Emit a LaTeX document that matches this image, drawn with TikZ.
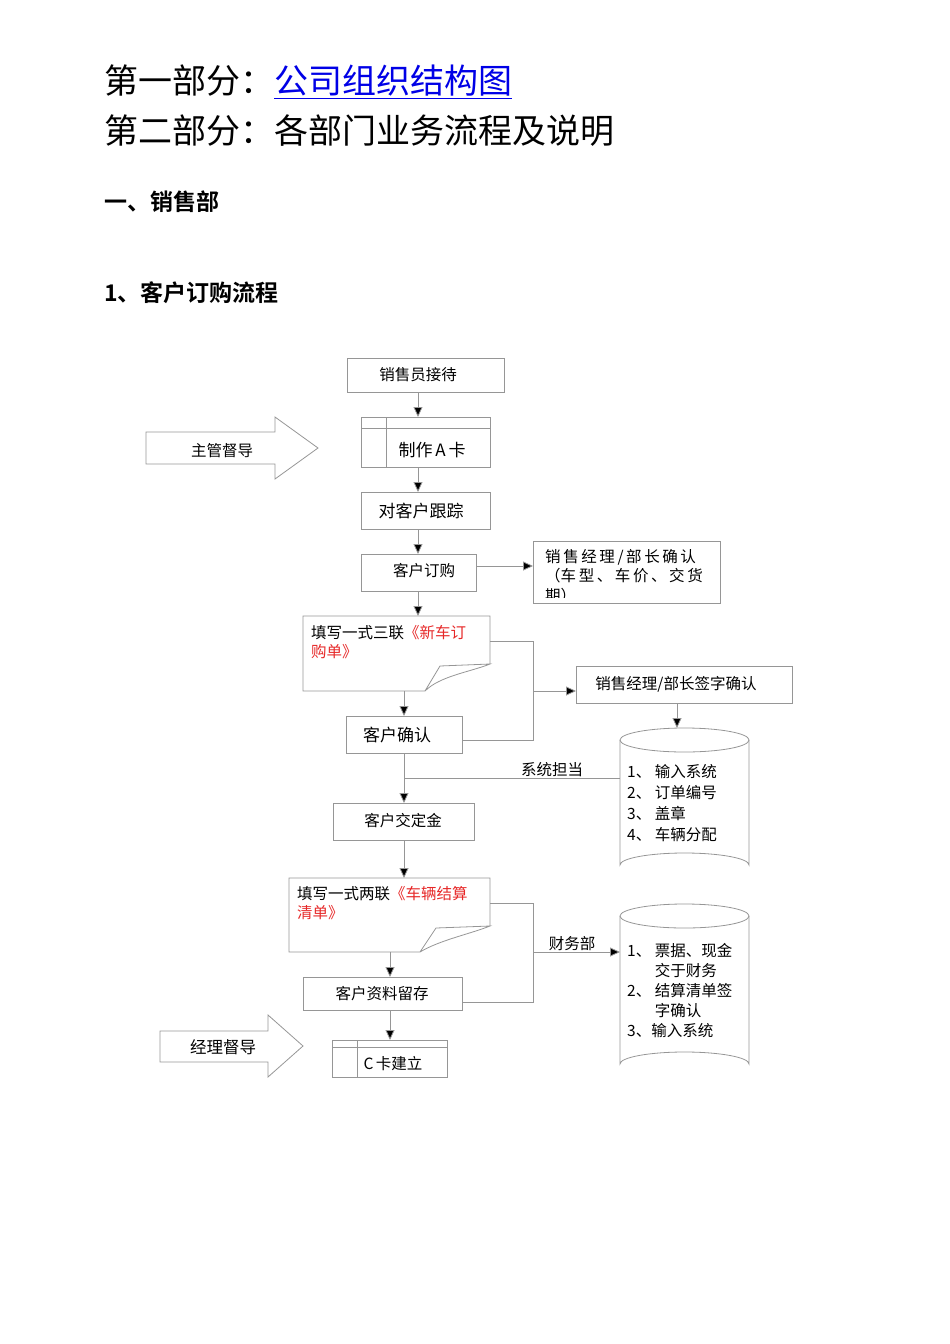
\documentclass[tikz,border=0pt]{standalone}
\usepackage{fontspec}
\setmainfont{Liberation Serif}
\newfontfamily\cjk{Noto Sans CJK SC}
\newfontfamily\cjkb{Noto Sans CJK SC Bold}
\usetikzlibrary{arrows.meta}
\definecolor{bd}{RGB}{150,150,150}
\definecolor{lk}{RGB}{0,0,230}
\definecolor{rd}{RGB}{230,40,40}
\begin{document}
\begin{tikzpicture}[x=1pt,y=-1pt,
 bx/.style={draw=bd,line width=0.8pt,inner sep=0pt},
 tx/.style={font=\cjk\fontsize{15.5}{19}\selectfont,inner sep=0pt},
 ln/.style={draw=bd,line width=0.8pt},
 ar/.style={ln,-{Triangle[length=10pt,width=9pt,fill=black]},shorten >=0pt},
 cyl/.style={draw=bd,line width=0.8pt}]
\useasboundingbox (0,0) rectangle (950,1344);
\node[anchor=west,font=\cjk\fontsize{34}{38}\selectfont,inner sep=0pt] (t1) at (104,82) {第一部分：\textcolor{lk}{\underline{公司组织结构图}}};
\node[anchor=west,font=\cjk\fontsize{34}{38}\selectfont,inner sep=0pt] (t2) at (104,131) {第二部分：各部门业务流程及说明};
\node[anchor=west,font=\cjkb\fontsize{23}{26}\selectfont,inner sep=0pt] (t3) at (104,202) {一、销售部};
\node[anchor=west,font=\cjkb\fontsize{23}{26}\selectfont,inner sep=0pt] (t4) at (104,293) {1、客户订购流程};
% boxes
\draw[bx] (347,358) rectangle (504,392); \node[tx] (b1) at (418,375) {销售员接待};
\draw[bx] (361,417) rectangle (490,467); \draw[ln] (386,417)--(386,467) (361,428)--(490,428);
\node[tx,font=\cjk\fontsize{17}{20}\selectfont] (b2) at (432,450) {制作\,A\,卡};
\draw[bx] (361,492) rectangle (490,529); \node[tx,font=\cjk\fontsize{17}{20}\selectfont] (b3) at (421,511) {对客户跟踪};
\draw[bx] (361,554) rectangle (476,591); \node[tx] (b4) at (424,571) {客户订购};
\draw[bx] (533,541) rectangle (720,603);
\begin{scope}
\clip (533,541) rectangle (720,597);
\node[tx,anchor=north west,align=left,font=\cjk\fontsize{15.5}{19.5}\selectfont] (b5) at (545,549) {销\,售\,经\,理\,/\,部\,长\,确\,认\\（车\,型\,、\,车\,价\,、\,交\,货\\期）};
\end{scope}
% doc1
\draw[bx] (490,664)--(490,616)--(303,616)--(303,691)--(425,691) .. controls (440,676) and (470,672) .. (490,664) -- (440,666) -- (425,691);
\node[tx,anchor=north west,align=left] (d1) at (311,625) {填写一式三联\textcolor{rd}{《新车订}\\\textcolor{rd}{购单》}};
\draw[bx] (576,666) rectangle (792,703); \node[tx] (b6) at (676,684) {销售经理/部长签字确认};
\draw[bx] (346,716) rectangle (462,753); \node[tx,font=\cjk\fontsize{17}{20}\selectfont] (b7) at (397,735) {客户确认};
\draw[bx] (333,803) rectangle (474,840); \node[tx] (b8) at (403,821) {客户交定金};
% cylinder1
\draw[cyl] (620,740)--(620,865) arc[start angle=180,end angle=360,x radius=64.5,y radius=12] -- (749,740);
\draw[cyl] (684.5,740) ellipse[x radius=64.5,y radius=12];
\node[tx,anchor=north west,align=left,font=\cjk\fontsize{15.5}{21}\selectfont] (c1) at (627,764) {1、\ 输入系统\\2、\ 订单编号\\3、\ 盖章\\4、\ 车辆分配};
% doc2
\draw[bx] (490,926)--(490,878)--(289,878)--(289,952)--(420,952) .. controls (440,940) and (470,934) .. (490,926) -- (436,928) -- (420,952);
\node[tx,anchor=north west,align=left] (d2) at (297,886) {填写一式两联\textcolor{rd}{《车辆结算}\\\textcolor{rd}{清单》}};
\draw[bx] (303,977) rectangle (462,1010); \node[tx] (b9) at (382,994) {客户资料留存};
\draw[bx] (332,1040) rectangle (447,1077); \draw[ln] (357,1040)--(357,1077) (332,1047)--(447,1047);
\node[tx] (b10) at (393,1064) {C\,卡建立};
% cylinder2
\draw[cyl] (620,916)--(620,1064) arc[start angle=180,end angle=360,x radius=64.5,y radius=12] -- (749,916);
\draw[cyl] (684.5,916) ellipse[x radius=64.5,y radius=12];
\node[tx,anchor=north west,align=left,font=\cjk\fontsize{15.5}{20}\selectfont] (c2) at (627,943) {1、\ 票据、现金\\\phantom{1、\ }交于财务\\2、\ 结算清单签\\\phantom{1、\ }字确认\\3、输入系统};
% block arrows
\draw[bx] (146,432)--(275,432)--(275,417)--(318,448)--(275,479)--(275,464)--(146,464)--cycle;
\node[tx] (m1) at (222,451) {主管督导};
\draw[bx] (160,1031)--(268,1031)--(268,1015)--(303,1046)--(268,1077)--(268,1062)--(160,1062)--cycle;
\node[tx,font=\cjk\fontsize{16.5}{20}\selectfont] (m2) at (223,1047) {经理督导};
% coordinates & connectors
\coordinate (a1) at (418,392); \coordinate (a1e) at (418,417);
\draw[ar] (a1)--(a1e);
\coordinate (a2) at (418,467); \coordinate (a2e) at (418,492); \draw[ar] (a2)--(a2e);
\coordinate (a3) at (418,529); \coordinate (a3e) at (418,554); \draw[ar] (a3)--(a3e);
\coordinate (a4) at (418,591); \coordinate (a4e) at (418,616); \draw[ar] (a4)--(a4e);
\coordinate (a5) at (476,566); \coordinate (a5e) at (533,566); \draw[ar] (a5)--(a5e);
\coordinate (a6) at (404,691); \coordinate (a6e) at (404,716); \draw[ar] (a6)--(a6e);
\draw[ln] (490,641)--(533,641)--(533,740)--(462,740);
\coordinate (a7) at (533,691); \coordinate (a7e) at (576,691); \draw[ar] (a7)--(a7e);
\coordinate (a8) at (677,703); \coordinate (a8e) at (677,728); \draw[ar] (a8)--(a8e);
\coordinate (a9) at (404,753); \coordinate (a9e) at (404,803); \draw[ar] (a9)--(a9e);
\draw[ln] (404,778)--(620,778);
\node[tx] (l1) at (552,770) {系统担当};
\coordinate (a10) at (404,840); \coordinate (a10e) at (404,878); \draw[ar] (a10)--(a10e);
\draw[ln] (490,903)--(533,903)--(533,1002)--(462,1002);
\coordinate (a11) at (533,952); \coordinate (a11e) at (620,952); \draw[ar] (a11)--(a11e);
\node[tx] (l2) at (572,944) {财务部};
\coordinate (a12) at (390,952); \coordinate (a12e) at (390,977); \draw[ar] (a12)--(a12e);
\coordinate (a13) at (390,1010); \coordinate (a13e) at (390,1040); \draw[ar] (a13)--(a13e);
\end{tikzpicture}
\end{document}
